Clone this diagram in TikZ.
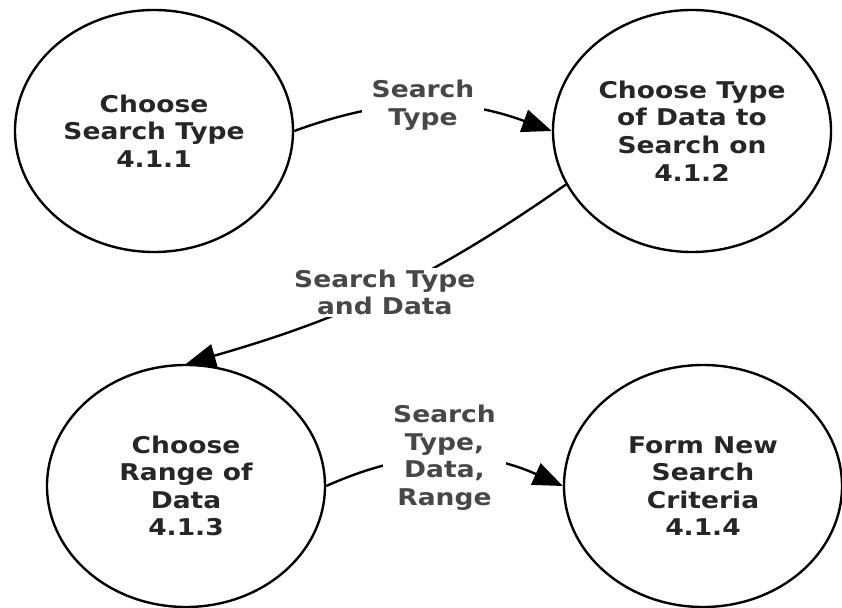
\documentclass[tikz,border=0pt]{standalone}
\usepackage{fontspec}
\setmainfont[FakeStretch=1.15]{DejaVu Sans}
\usetikzlibrary{shapes.geometric,arrows.meta}

\tikzset{
	process/.style={ellipse, draw, line width=1.7pt, minimum width=6.95cm, minimum height=6.05cm, inner sep=0pt, align=center, text=black!85, font=\bfseries\fontsize{16.4}{19.6}\selectfont},
	flow/.style={line width=1.7pt, -{Triangle[length=0.74cm,width=0.58cm]}},
	lbl/.style={fill=white, align=center, inner xsep=0.25cm, inner ysep=0.05cm, text=black!72, font=\bfseries\fontsize{16.4}{19.6}\selectfont}
}

\begin{document}
\begin{tikzpicture}
	
	\useasboundingbox (0,0) rectangle (21.05,15.175);
	
	\node[process] (a) at (3.85,11.9) {Choose\\Search Type\\4.1.1};
	
	\node[process] (b) at (17.3,11.9) {Choose Type\\of Data to\\Search on\\4.1.2};
	
	\node[process] (c) at (4.65,3.025) {Choose\\Range of\\Data\\4.1.3};
	
	\node[process] (d) at (17.575,3.025) {Form New\\Search\\Criteria\\4.1.4};
	
	\draw[flow] (a.east) to[bend left=20] node[lbl] (s) {Search\\Type} (b.west);
	\draw[flow] (b.203) to[out=215,in=16] node[lbl] (sd) {Search Type\\and Data} (c.north);
	\draw[flow] (c.east) to[bend left=24] node[lbl] (sdr) {Search\\Type,\\Data,\\Range} (d.west);
	
\end{tikzpicture}
\end{document}
